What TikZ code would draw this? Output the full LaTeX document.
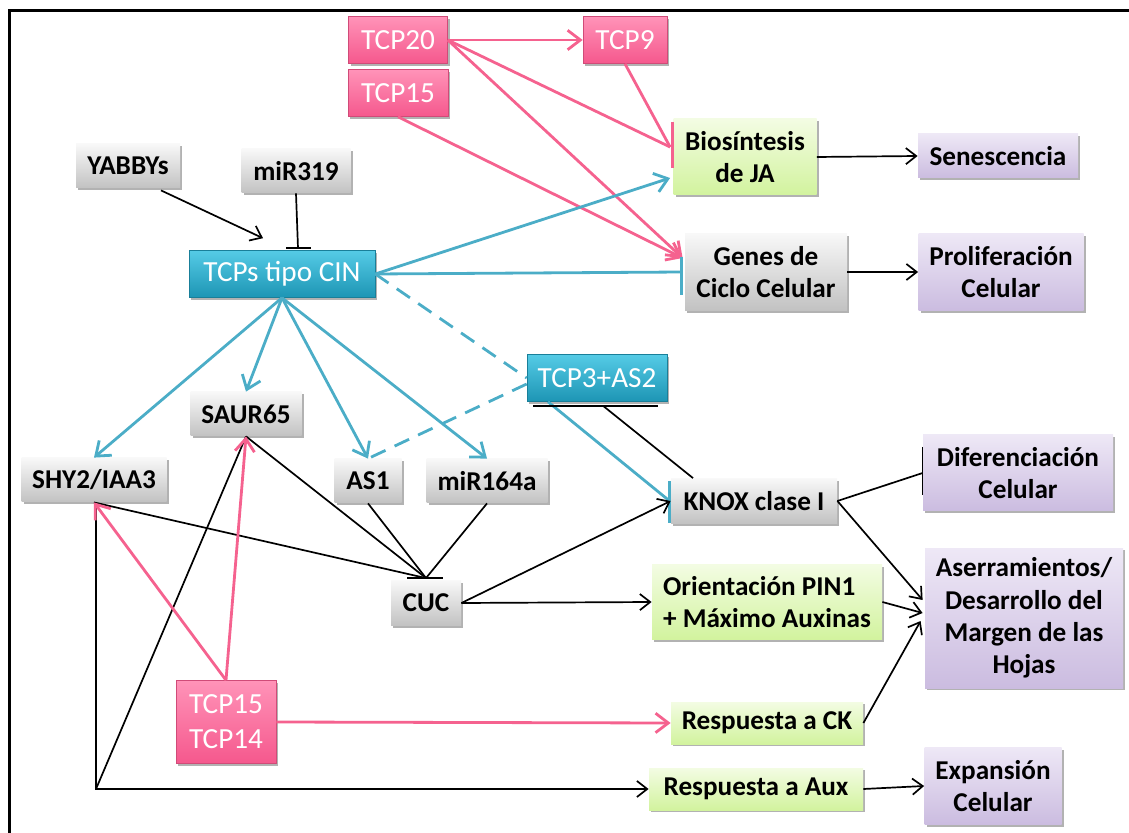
\documentclass[tikz,border=0pt]{standalone}
\usepackage{fontspec}
\setmainfont{Carlito}
\usetikzlibrary{arrows.meta,shadows}
\definecolor{greyT}{HTML}{F8F8F8}
\definecolor{greyB}{HTML}{C2C2C2}
\definecolor{pinkT}{HTML}{FF93B8}
\definecolor{pinkM}{HTML}{FF6A9C}
\definecolor{pinkB}{HTML}{F5588D}
\definecolor{blueT}{HTML}{55CBE6}
\definecolor{blueM}{HTML}{2FB3D3}
\definecolor{blueB}{HTML}{1D95B4}
\definecolor{greenT}{HTML}{F3FCE3}
\definecolor{greenB}{HTML}{D2F39E}
\definecolor{purpT}{HTML}{EEE8F6}
\definecolor{purpB}{HTML}{CBBCE0}
\definecolor{pkline}{HTML}{F5628F}
\definecolor{blline}{HTML}{4BADC7}
\newcommand\bkfont{\fontsize{13.6}{16.2}\selectfont\bfseries}
\newcommand\wtfont{\fontsize{14.6}{17.5}\selectfont}
\begin{document}
\begin{tikzpicture}[x=0.5pt,y=-0.5pt,
  >={Straight Barb[length=3.3pt 2.2,width=5.5pt 3]},
  box/.style={rectangle, inner sep=0pt, align=center,
    drop shadow={shadow xshift=1.2pt,shadow yshift=-1.2pt,opacity=0.3,fill=black}},
  greybox/.style={box, top color=greyT, bottom color=greyB, font=\bkfont},
  greenbox/.style={box, top color=greenT, bottom color=greenB, font=\bkfont},
  purplebox/.style={box, top color=purpT, bottom color=purpB, font=\bkfont},
  pinkbox/.style={box, top color=pinkT, middle color=pinkM, bottom color=pinkB, draw=pinkB!85!black, line width=0.3pt, text=white, font=\wtfont},
  bluebox/.style={box, top color=blueT, middle color=blueM, bottom color=blueB, draw=blueB!85!black, line width=0.3pt, text=white, font=\wtfont},
  bk/.style={line width=0.85pt, black},
  pk/.style={line width=1.4pt, pkline},
  bl/.style={line width=1.4pt, blline},
  frame/.style={line width=1.5pt, black}]
\useasboundingbox (0,0) rectangle (1129,833);
\draw[frame] (9,833) -- (9,11) -- (1129,11);

% nodes
\node[pinkbox, minimum width=49.5pt, minimum height=23.5pt] (tcp20) at (398,40) {TCP20};
\node[pinkbox, minimum width=50pt, minimum height=23.5pt] (tcp15a) at (398,93) {TCP15};
\node[pinkbox, minimum width=42pt, minimum height=23.5pt] (tcp9) at (625,40) {TCP9};
\node[greybox, minimum width=52pt, minimum height=22pt] (yab) at (128,166) {YABBYs};
\node[greybox, minimum width=54.5pt, minimum height=22pt] (mir319) at (296,171) {miR319};
\node[bluebox, minimum width=93pt, minimum height=23.5pt] (cin) at (282,274) {TCPs tipo CIN};
\node[greenbox, minimum width=71.5pt, minimum height=38pt] (bio) at (745,157) {Biosíntesis\\de JA};
\node[purplebox, minimum width=80pt, minimum height=22pt] (sen) at (998,156) {Senescencia};
\node[greybox, minimum width=81pt, minimum height=38.5pt] (genes) at (766,272) {Genes de\\Ciclo Celular};
\node[purplebox, minimum width=82.5pt, minimum height=38.5pt] (prol) at (1001,272) {Proliferación\\Celular};
\node[greybox, minimum width=55.5pt, minimum height=22pt] (saur) at (246,414) {SAUR65};
\node[greybox, minimum width=72.5pt, minimum height=22pt] (shy) at (94,480) {SHY2/IAA3};
\node[greybox, minimum width=33.5pt, minimum height=22pt] (as1) at (368,481) {AS1};
\node[greybox, minimum width=60.5pt, minimum height=22pt] (mir164) at (487,481) {miR164a};
\node[bluebox, minimum width=70pt, minimum height=23.5pt] (tcp3) at (597,378) {TCP3+AS2};
\node[greybox, minimum width=83pt, minimum height=22.5pt] (knox) at (754,501) {KNOX clase I};
\node[greybox, minimum width=35pt, minimum height=22.5pt] (cuc) at (426,603) {CUC};
\node[greenbox, minimum width=115pt, minimum height=37.5pt, align=left] (ori) at (767,602) {Orientación PIN1\\+ Máximo Auxinas};
\node[purplebox, minimum width=95pt, minimum height=38pt] (dif) at (1018,473) {Diferenciación\\Celular};
\node[purplebox, minimum width=99pt, minimum height=70pt] (aser) at (1024,618) {Aserramientos/\\Desarrollo del\\Margen de las\\Hojas};
\node[greenbox, minimum width=96pt, minimum height=21pt] (rck) at (767,723) {Respuesta a CK};
\node[greenbox, minimum width=107pt, minimum height=21pt] (raux) at (756,789) {Respuesta a Aux};
\node[purplebox, minimum width=68.5pt, minimum height=38.5pt] (exp) at (993,786) {Expansión\\Celular};
\node[pinkbox, minimum width=50pt, minimum height=41.5pt] (tcp1514) at (226,722) {TCP15\\TCP14};

% pink connectors (top)
\coordinate (bioIn) at ([xshift=-1.5pt,yshift=5pt]bio.west);
\coordinate (genIn) at ([xshift=-1pt,yshift=7pt]genes.west);
\draw[pk,->] (tcp20.east) -- (tcp9.west);
\draw[pk] (tcp20.east) -- (bioIn);
\draw[pk] (tcp9.south) -- (bioIn);
\draw[pk] ([xshift=-0.5pt,yshift=17.5pt]bio.west) -- ([xshift=-0.5pt,yshift=-5.5pt]bio.west);
\draw[pk,->] (tcp20.east) -- (genIn);
\draw[pk,->] (tcp15a.south) -- (genIn);

% blue connectors
\draw[bl,->] (cin.east) -- ([xshift=-1.5pt,yshift=-10.5pt]bio.west);
\draw[bl] (cin.east) -- ([xshift=-1pt]genes.west);
\draw[bl] ([xshift=-1.5pt,yshift=7.5pt]genes.west) -- ([xshift=-1.5pt,yshift=-11.5pt]genes.west);
\foreach \t in {shy,saur,as1,mir164} \draw[bl,->] (cin.south) -- (\t.north);
\draw[bl,dash pattern=on 8pt off 5pt] (cin.east) -- (tcp3.west);
\draw[bl,dash pattern=on 8pt off 5pt] ([yshift=-3pt]tcp3.west) -- (as1.north);
\draw[bl] ([xshift=-24.5pt]tcp3.south) -- ([xshift=-0.5pt]knox.west);
\draw[bl] ([xshift=-0.5pt,yshift=10pt]knox.west) -- ([xshift=-0.5pt,yshift=-11pt]knox.west);

% black connectors
\draw[bk,->] ([xshift=16.5pt,yshift=-1pt]yab.south) -- ([xshift=-9.5pt,yshift=6pt]cin.north);
\draw[bk] (mir319.south) -- ([xshift=8pt,yshift=1pt]cin.north);
\draw[bk] ([xshift=2pt,yshift=1pt]cin.north) -- ([xshift=14.5pt,yshift=1pt]cin.north);
\draw[bk,->] (bio.east) -- (sen.west);
\draw[bk,->] (genes.east) -- (prol.west);
\draw[bk] ([xshift=-30.5pt]knox.north) -- ([xshift=3pt,yshift=-2pt]tcp3.south);
\draw[bk] ([xshift=-32pt,yshift=-2pt]tcp3.south) -- ([xshift=30.5pt,yshift=-2pt]tcp3.south);
\coordinate (cucIn) at ([yshift=1pt]cuc.north);
\foreach \s in {shy,saur,as1,mir164} \draw[bk] (\s.south) -- (cucIn);
\draw[bk] ([xshift=-9.5pt]cucIn) -- ([xshift=8.5pt]cucIn);
\coordinate (corner) at ([xshift=1pt]shy.south |- raux.west);
\draw[bk,->] ([xshift=1pt]shy.south) -- (corner) -- (raux.west);
\draw[bk] (saur.south) -- (corner);
\draw[bk,->] (cuc.east) -- (knox.west);
\draw[bk,->] (cuc.east) -- (ori.west);
\draw[bk] (knox.east) -- (dif.west);
\draw[bk] ([yshift=13pt]dif.west) -- ([yshift=-11pt]dif.west);
\draw[bk,->] (knox.east) -- ([xshift=-1pt,yshift=9pt]aser.west);
\draw[bk,->] (ori.east) -- ([xshift=-1pt,yshift=2.5pt]aser.west);
\draw[bk,->] (rck.east) -- ([xshift=-2pt,yshift=-1.5pt]aser.west);
\draw[bk,->] (raux.east) -- (exp.west);

% pink connectors (bottom)
\draw[pk,->] (tcp1514.north) -- (shy.south);
\draw[pk,->] (tcp1514.north) -- (saur.south);
\draw[pk,->] (tcp1514.east) -- (rck.west);
\end{tikzpicture}
\end{document}
